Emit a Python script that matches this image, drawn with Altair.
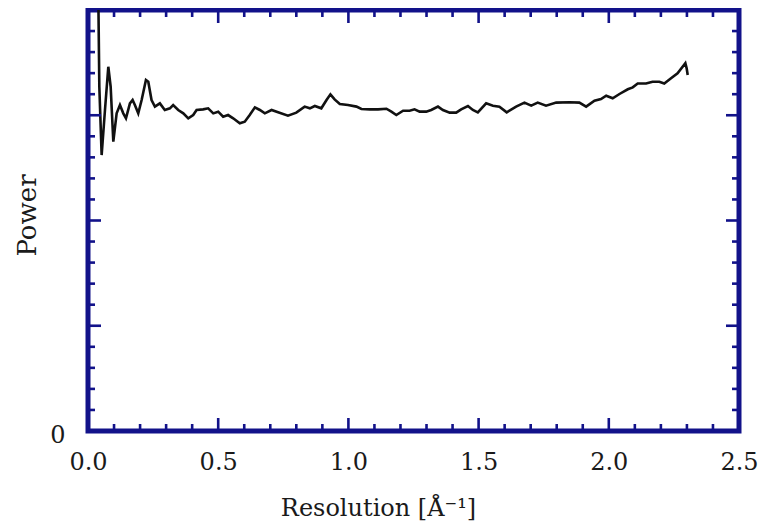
import altair as alt
import pandas as pd

# Resolution (1/Angstrom) and power (arbitrary units, axis 0..4)
resolution = [0.040, 0.0435, 0.0524, 0.0652, 0.078, 0.087, 0.0972, 0.110, 0.1227, 0.1355,
              0.1458, 0.161, 0.1713, 0.180, 0.193, 0.206, 0.2225, 0.2315, 0.244, 0.257,
              0.276, 0.295, 0.3145, 0.327, 0.3465, 0.366, 0.385, 0.404, 0.417, 0.442,
              0.4615, 0.481, 0.500, 0.519, 0.538, 0.5575, 0.583, 0.602, 0.621, 0.641, 0.660,
              0.679, 0.705, 0.730, 0.768, 0.800, 0.832, 0.852, 0.871, 0.896, 0.916,
              0.931, 0.947, 0.967, 0.9985, 1.031, 1.050, 1.082, 1.114, 1.146, 1.165,
              1.184, 1.210, 1.235, 1.254, 1.2735, 1.299, 1.318, 1.344, 1.363, 1.389,
              1.414, 1.433, 1.459, 1.478, 1.497, 1.529, 1.555,
              1.580, 1.608, 1.644, 1.676, 1.702, 1.727, 1.759, 1.798, 1.849, 1.887,
              1.913, 1.945, 1.970, 1.990, 2.015, 2.041, 2.073,
              2.092, 2.111, 2.143, 2.168, 2.194, 2.213, 2.239, 2.264, 2.294, 2.299, 2.303]
power = [4.05, 3.271, 2.622, 3.050, 3.461, 3.271, 2.749, 3.018, 3.097, 3.018,
         2.971, 3.113, 3.145, 3.097, 3.018, 3.145, 3.335, 3.319, 3.145, 3.082,
         3.113, 3.050, 3.066, 3.097, 3.050, 3.018, 2.971, 3.002, 3.050, 3.056,
         3.066, 3.018, 3.034, 2.986, 3.002, 2.971, 2.923, 2.939, 3.002, 3.075, 3.050,
         3.018, 3.050, 3.028, 2.996, 3.025, 3.082, 3.066, 3.088, 3.066, 3.145,
         3.199, 3.151, 3.107, 3.097, 3.082, 3.059, 3.056, 3.056, 3.062, 3.034,
         3.002, 3.043, 3.043, 3.056, 3.034, 3.034, 3.050, 3.082, 3.050, 3.025,
         3.025, 3.056, 3.088, 3.050, 3.028, 3.113, 3.091,
         3.082, 3.028, 3.082, 3.120, 3.091, 3.120, 3.091, 3.120, 3.123, 3.120,
         3.082, 3.138, 3.154, 3.186, 3.161, 3.202, 3.247,
         3.265, 3.302, 3.302, 3.319, 3.319, 3.302, 3.351, 3.398, 3.494, 3.446, 3.382]

x_labels = [0.0, 0.5, 1.0, 1.5, 2.0, 2.5]
x_major = [0.5, 1.0, 1.5, 2.0]
x_minor = [0.1, 0.2, 0.3, 0.4, 0.6, 0.7, 0.8, 0.9, 1.1, 1.2, 1.3, 1.4,
           1.6, 1.7, 1.8, 1.9, 2.1, 2.2, 2.3, 2.4]
y_labels = [0]
y_major = [1, 2, 3]
y_minor = [0.2, 0.4, 0.6, 0.8, 1.2, 1.4, 1.6, 1.8, 2.2, 2.4, 2.6, 2.8,
           3.2, 3.4, 3.6, 3.8]

NAVY = "#12128a"
FONT = "DejaVu Serif"
W, H = 651, 421
MAJ, MIN = 13, 7

xs = alt.Scale(domain=[0, 2.5], nice=False, zero=False)
ys = alt.Scale(domain=[0, 4], nice=False, zero=False)

x_axis = alt.Axis(
    values=x_labels, format=".1f", ticks=False, domain=False, grid=False,
    labelFont=FONT, labelFontSize=24, labelColor="#1a1a1a", labelPadding=19,
    labelFlush=False, labelOverlap=False, labelBound=False,
    title="Resolution [Å⁻¹]", titleFont=FONT, titleFontSize=24,
    titleFontWeight="normal", titleColor="#1a1a1a",
    titleX=290, titleY=77, titleAlign="center", titleBaseline="middle")
y_axis = alt.Axis(
    values=y_labels, format="d", ticks=False, domain=False, grid=False,
    labelFont=FONT, labelFontSize=24, labelColor="#1a1a1a", labelPadding=23,
    labelOffset=4, labelBaseline="middle", labelFlush=False,
    title="Power", titleFont=FONT, titleFontSize=26, titleFontWeight="normal",
    titleColor="#1a1a1a", titleX=-61, titleY=205, titleAngle=270,
    titleAlign="center", titleBaseline="middle")

df = pd.DataFrame({"res": resolution, "power": power})

line = alt.Chart(df).mark_line(color="#111111", strokeWidth=2.6, clip=True).encode(
    x=alt.X("res:Q", scale=xs, axis=x_axis, title="Resolution [Å⁻¹]"),
    y=alt.Y("power:Q", scale=ys, axis=y_axis, title="Power"),
)


def xticks(vals, length):
    d = pd.DataFrame({"v": vals})
    base = alt.Chart(d).mark_rule(color=NAVY, strokeWidth=2.6)
    enc_x = alt.X("v:Q", scale=xs, axis=x_axis, title="Resolution [Å⁻¹]")
    bottom = base.encode(x=enc_x, y=alt.value(H), y2=alt.value(H - length))
    top = base.encode(x=enc_x, y=alt.value(0), y2=alt.value(length))
    return [bottom, top]


def yticks(vals, length):
    d = pd.DataFrame({"v": vals})
    base = alt.Chart(d).mark_rule(color=NAVY, strokeWidth=2.6)
    enc_y = alt.Y("v:Q", scale=ys, axis=y_axis, title="Power")
    left = base.encode(y=enc_y, x=alt.value(0), x2=alt.value(length))
    right = base.encode(y=enc_y, x=alt.value(W), x2=alt.value(W - length))
    return [left, right]


layers = [line] + xticks(x_major, MAJ) + xticks(x_minor, MIN) + \
    yticks(y_major, MAJ) + yticks(y_minor, MIN)

chart = alt.layer(*layers).properties(
    width=W, height=H,
    background="white",
    padding={"left": 80, "top": 2, "right": 20, "bottom": 90},
    autosize=alt.AutoSizeParams(type="none"),
).configure_view(stroke=NAVY, strokeWidth=5)

chart.save("out.html", embed_options={"renderer": "svg", "actions": False})
